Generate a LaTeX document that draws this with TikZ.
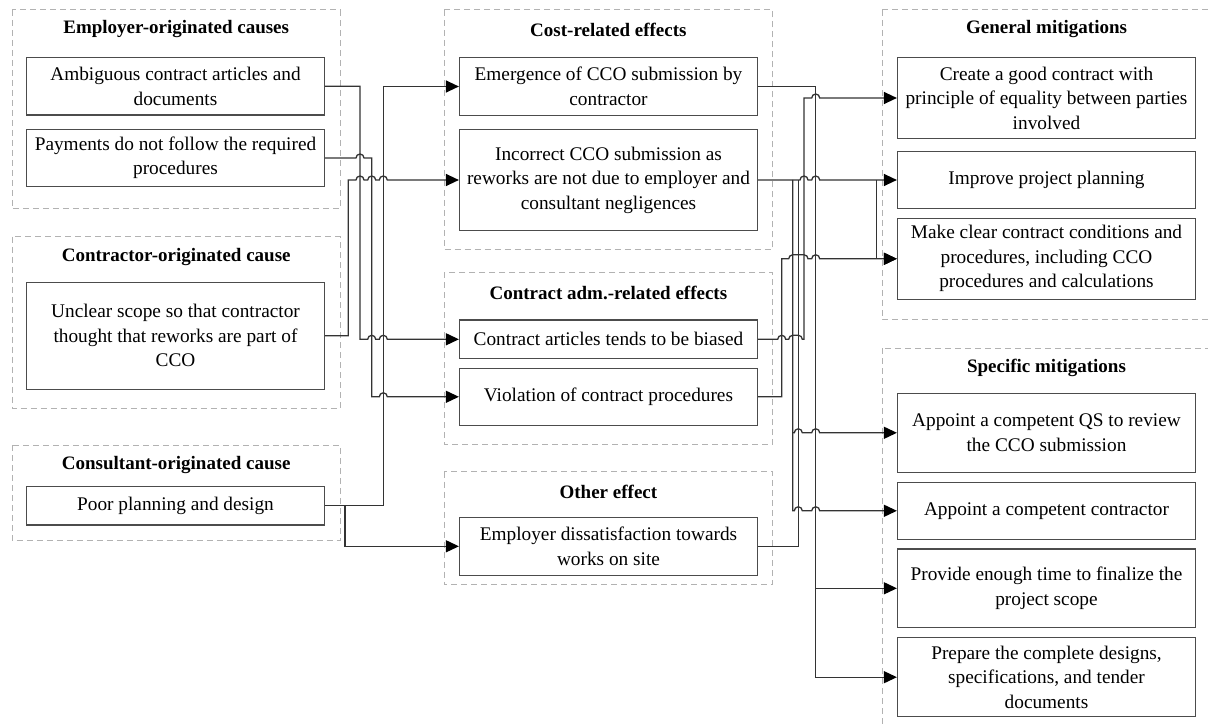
\documentclass[tikz,border=0pt]{standalone}
\usepackage{fontspec}
\setmainfont{Liberation Serif}
\usetikzlibrary{arrows.meta,calc}

% a small semicircular hop where a horizontal wire crosses a vertical one
\newcommand\linehop[2]{-- ($(#1 -| #2)+(-4,0)$) arc[start angle=180,end angle=0,radius=4]}
% one flattened hop spanning several close vertical wires
\newcommand\linehopwide[3]{-- ($(#1 -| #2)+(-4,0)$) arc[start angle=180,end angle=90,radius=4] -- ($(#1 -| #3)+(0,4)$) arc[start angle=90,end angle=0,radius=4]}

\begin{document}
\begin{tikzpicture}[x=1pt,y=1pt,
  box/.style={draw=black!70, line width=1.2pt, minimum width=298pt, inner sep=0pt,
    align=center, font=\fontsize{19.3}{24.5}\selectfont},
  grp/.style={draw=black!30, line width=1pt, dash pattern=on 6pt off 4pt},
  ttl/.style={font=\bfseries\fontsize{19}{22}\selectfont, inner sep=0pt},
  wire/.style={draw=black!80, line width=1.3pt},
  arr/.style={wire, -{Triangle[length=13pt,width=12pt,color=black,fill=black]}}
]
\useasboundingbox (0,0) rectangle (1208,-727);

% ---------- group frames ----------
\draw[grp] (12.3,-10) rectangle (340,-209);
\draw[grp] (12.3,-236.7) rectangle (340,-408.3);
\draw[grp] (12.3,-445) rectangle (340,-540.7);
\draw[grp] (444,-10) rectangle (772.7,-249.3);
\draw[grp] (444,-272.3) rectangle (772.7,-444.3);
\draw[grp] (444,-471.7) rectangle (772.7,-584.3);
\draw[grp] (882.3,-10) rectangle (1215,-320);
\draw[grp] (882.3,-348.3) rectangle (1215,-740);

% ---------- group titles ----------
\node[ttl] (tEmp)  at (176.2,-29.5)   {Employer-originated causes};
\node[ttl] (tCtr)  at (176.2,-257.5)  {Contractor-originated cause};
\node[ttl] (tCsl)  at (176.2,-464.8)  {Consultant-originated cause};
\node[ttl] (tCost) at (608.4,-29.5)   {Cost-related effects};
\node[ttl] (tAdm)  at (608.4,-293.2)  {Contract adm.-related effects};
\node[ttl] (tOth)  at (608.4,-491.5)  {Other effect};
\node[ttl] (tGen)  at (1046.5,-29.5)  {General mitigations};
\node[ttl] (tSpe)  at (1046.5,-368.2) {Specific mitigations};

% ---------- causes ----------
\node[box, minimum height=57.7pt] (amb)  at (175.5,-86.2)  {Ambiguous contract articles and\\documents};
\node[box, minimum height=57.4pt] (pay)  at (175.5,-158)   {Payments do not follow the required\\procedures};
\node[box, minimum height=107pt]  (unc)  at (175.5,-335.8) {Unclear scope so that contractor\\thought that reworks are part of\\CCO};
\node[box, minimum height=38.3pt] (poor) at (175.5,-505.8) {Poor planning and design};

% ---------- effects ----------
\node[box, minimum height=58.4pt]  (eme) at (608.5,-86.5)  {Emergence of CCO submission by\\contractor};
\node[box, minimum height=100.7pt] (inc) at (608.5,-180)   {Incorrect CCO submission as\\reworks are not due to employer and\\consultant negligences};
\node[box, minimum height=38.7pt]  (bia) at (608.5,-339.3) {Contract articles tends to be biased};
\node[box, minimum height=57pt]    (vio) at (608.5,-396.8) {Violation of contract procedures};
\node[box, minimum height=58pt]    (dis) at (608.5,-546.3) {Employer dissatisfaction towards\\works on site};

% ---------- mitigations ----------
\node[box, minimum height=81.4pt] (cre)  at (1046.5,-98)    {Create a good contract with\\principle of equality between parties\\involved};
\node[box, minimum height=56.3pt] (imp)  at (1046.5,-180)   {Improve project planning};
\node[box, minimum height=81pt]   (mak)  at (1046.5,-258.8) {Make clear contract conditions and\\procedures, including CCO\\procedures and calculations};
\node[box, minimum height=79pt]   (qs)   at (1046.5,-432.8) {Appoint a competent QS to review\\the CCO submission};
\node[box, minimum height=57pt]   (con)  at (1046.5,-510.8) {Appoint a competent contractor};
\node[box, minimum height=78.7pt] (prov) at (1046.5,-588.3) {Provide enough time to finalize the\\project scope};
\node[box, minimum height=79pt]   (prep) at (1046.5,-677.2) {Prepare the complete designs,\\specifications, and tender\\documents};

% ---------- vertical wire lanes ----------
\coordinate (vD) at (345,0);
\coordinate (vP) at (348.3,0);
\coordinate (vA) at (360,0);
\coordinate (vB) at (371.7,0);
\coordinate (vC) at (383.3,0);
\coordinate (r1) at (781.7,0);
\coordinate (r2) at (792.7,0);
\coordinate (r3) at (798.3,0);
\coordinate (r4) at (804,0);
\coordinate (r5) at (815.7,0);
\coordinate (r6) at (876.7,0);

% ---------- causes -> effects ----------
\draw[arr] (amb.east) -- (amb.east -| vA) -- (bia.west -| vA)
  \linehop{bia.west}{vB} \linehop{bia.west}{vC} -- (bia.west);
\draw[arr] (pay.east) \linehop{pay.east}{vA} -- (pay.east -| vB) -- (vio.west -| vB)
  \linehop{vio.west}{vC} -- (vio.west);
\draw[arr] (unc.east) -- (unc.east -| vP) -- (inc.west -| vP)
  \linehop{inc.west}{vA} \linehop{inc.west}{vB} \linehop{inc.west}{vC} -- (inc.west);
\draw[arr] (poor.east) -- (poor.east -| vC) -- (eme.west -| vC) -- (eme.west);
\draw[arr] (poor.east) -- (poor.east -| vD) -- (dis.west -| vD) -- (dis.west);

% ---------- effects -> mitigations ----------
% emergence of CCO submission
\draw[arr] (eme.east) -- (eme.east -| r5) -- (prep.west -| r5) -- (prep.west);
\draw[arr] (prov.west -| r5) -- (prov.west);
% incorrect CCO submission
\draw[arr] (inc.east) \linehop{inc.east}{r4} \linehop{inc.east}{r5} -- (imp.west);
\draw[arr] (inc.east -| r6) -- (mak.west -| r6) -- (mak.west);
\draw[arr] (inc.east -| r2) -- (con.west -| r2)
  \linehop{con.west}{r3} \linehop{con.west}{r5} -- (con.west);
\draw[arr] (qs.west -| r2) \linehop{qs.west}{r3} \linehop{qs.west}{r5} -- (qs.west);
% employer dissatisfaction
\draw[wire] (dis.east) -- (dis.east -| r3) -- (inc.east -| r3);
% contract articles biased
\draw[arr] (bia.east) \linehop{bia.east}{r1} \linehopwide{bia.east}{r2}{r3}
  -- (bia.east -| r4) -- (cre.west -| r4) \linehop{cre.west}{r5} -- (cre.west);
% violation of contract procedures
\draw[arr] (vio.east) -- (vio.east -| r1) -- (mak.west -| r1)
  \linehopwide{mak.west}{r2}{r4} \linehop{mak.west}{r5} -- (mak.west);

\end{tikzpicture}
\end{document}
